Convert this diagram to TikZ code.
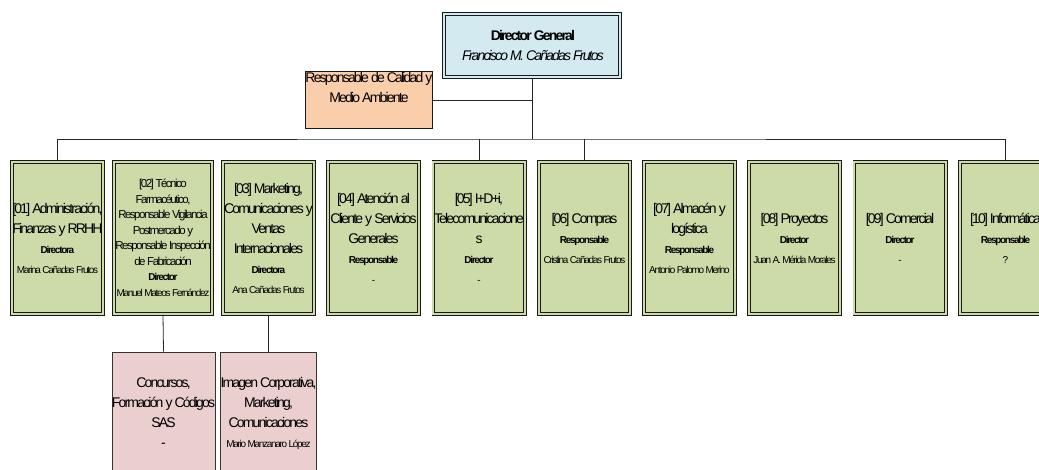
\documentclass[tikz,border=0pt]{standalone}
\usepackage{fontspec}
\setmainfont{Liberation Sans}[LetterSpace=-13]

\newcommand{\rolefont}{\fontsize{10}{17}\selectfont\bfseries}
\newcommand{\namefont}{\fontsize{10}{16}\selectfont}

\begin{document}
\begin{tikzpicture}[
    x=1pt, y=-1pt,
    every node/.style={font=\fontsize{14}{20}\selectfont, align=center, inner sep=0pt},
    head/.style={draw=black!90, line width=0.9pt, double=headblue, double distance=1.8pt, fill=headblue, minimum width=176.4pt, minimum height=63.4pt},
    quality/.style={draw=black!90, line width=1.1pt, fill=qualorange, minimum width=125pt, minimum height=51pt},
    dept/.style={draw=black!90, line width=0.9pt, double=deptgreen, double distance=1.8pt, fill=deptgreen, minimum width=91.4pt, minimum height=152.4pt},
    unit/.style={draw=black!80, line width=0.7pt, fill=unitpink, minimum width=95pt, minimum height=122pt},
    link/.style={draw=black!85, line width=0.8pt}
]
\definecolor{headblue}{RGB}{211,234,240}   % light blue
\definecolor{qualorange}{RGB}{250,206,170} % orange
\definecolor{deptgreen}{RGB}{205,219,169}  % green
\definecolor{unitpink}{RGB}{235,207,207}   % pink

\clip (0,0) rectangle (1039,470);

% Top of the chart
\node[head] (dg) at (532,45.5) {\textbf{Director General}\\\textit{Francisco M. Cañadas Frutos}};
\node[quality] (qa) at (369,100) {Responsable de Calidad y\\Medio Ambiente\\\strut};

% Departments
\node[dept] (d01) at (57.5,238) {[01] Administración,\\Finanzas y RRHH\\\rolefont Directora\\\namefont Marina Cañadas Frutos};
\node[dept, minimum width=98.4pt, font=\fontsize{11.5}{15.5}\selectfont] (d02) at (163,238) {[02] Técnico\\Farmacéutico,\\Responsable Vigilancia\\Postmercado y\\Responsable Inspección\\de Fabricación\\\rolefont Director\\\namefont Manuel Mateos Fernández};
\node[dept] (d03) at (268.5,238) {[03] Marketing,\\Comunicaciones y\\Ventas\\Internacionales\\\rolefont Directora\\\namefont Ana Cañadas Frutos};
\node[dept] (d04) at (373.5,238) {[04] Atención al\\Cliente y Servicios\\Generales\\\rolefont Responsable\\\namefont -};
\node[dept] (d05) at (479,238) {[05] I+D+i,\\Telecomunicacione\\s\\\rolefont Director\\\namefont -};
\node[dept] (d06) at (584.5,238) {[06] Compras\\\rolefont Responsable\\\namefont Cristina Cañadas Frutos};
\node[dept] (d07) at (689.5,238) {[07] Almacén y\\logística\\\rolefont Responsable\\\namefont Antonio Palomo Merino};
\node[dept] (d08) at (794.5,238) {[08] Proyectos\\\rolefont Director\\\namefont Juan A. Mérida Morales};
\node[dept] (d09) at (900,238) {[09] Comercial\\\rolefont Director\\\namefont -};
\node[dept] (d10) at (1005.5,238) {[10] Informática\\\rolefont Responsable\\\namefont ?};

% Units below
\node[unit] (s02) at (163.5,413) {Concursos,\\Formación y Códigos\\SAS\\-};
\node[unit] (s03) at (268.5,413) {Imagen Corporativa,\\Marketing,\\Comunicaciones\\\namefont Mario Manzanaro López};

% Connectors
\coordinate (bar) at (dg.south |- 0,139);
\draw[link] (dg.south) -- (bar);
\draw[link] (qa.east) -- (qa.east -| dg.south);
\draw[link] (d01.north) |- (bar) -| (d10.north);
\draw[link] (d05.north) -- (d05.north |- bar);
\draw[link] (d06.north) -- (d06.north |- bar);
\draw[link] (d02.south) -- (s02.north);
\draw[link] (d03.south) -- (s03.north);

\end{tikzpicture}
\end{document}
